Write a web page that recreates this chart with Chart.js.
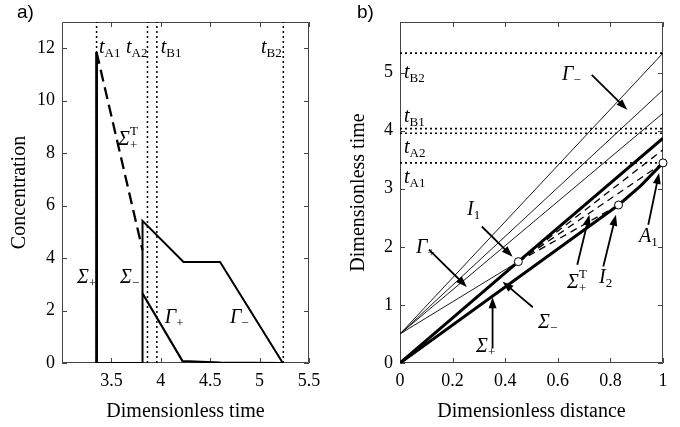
<!DOCTYPE html>
<html>
<head>
<meta charset="utf-8">
<script src="https://cdn.jsdelivr.net/npm/chart.js@4.4.1/dist/chart.umd.min.js"></script>
<style>
    html, body { margin: 0; padding: 0; background: #fff; }
    #wrap { position: relative; width: 680px; height: 427px; }
    canvas { position: absolute; top: 0; }
    #chartA { left: 0; }
    #chartB { left: 340px; }
    .tag { position: absolute; top: 1px; font: 19px "Liberation Sans", Arial, sans-serif; color: #000; }
</style>
</head>
<body>
<div id="wrap">
    <canvas id="chartA" width="340" height="427"></canvas>
    <canvas id="chartB" width="340" height="427"></canvas>
    <div class="tag" style="left:17px">a)</div>
    <div class="tag" style="left:357px">b)</div>
</div>
<script>
const serif = '"Liberation Serif", "Times New Roman", serif';

// a) concentration at the outlet vs. time
const aTimeTicks = [3.5, 4, 4.5, 5, 5.5];
const aConcTicks = [0, 2, 4, 6, 8, 10, 12];
const aSigmaPlus = [[3.35, 0], [3.35, 11.85]];
const aSigmaPlusT = [[3.35, 11.85], [3.815, 4.3]];
const aOutlet = [[3.35, 0], [3.815, 0], [3.815, 5.42], [4.23, 3.85], [4.6, 3.85], [5.235, 0]];
const aGammaPlus = [[3.815, 2.65], [4.22, 0.07], [4.6, 0.02], [5.235, 0]];
const markNames = ['A1', 'A2', 'B1', 'B2'];
const aMarkTimes = [3.35, 3.865, 3.96, 5.24];

// b) distance-time diagram
const bDistTicks = [0, 0.2, 0.4, 0.6, 0.8, 1];
const bTimeTicks = [0, 1, 2, 3, 4, 5];
const bMarkTimes = [3.445, 3.955, 4.035, 5.335];
const bSigmaPlus = [[0, 0], [0.831, 2.72], [0.915, 3.05], [1, 3.445]];
const bSigmaMinus = [[0, 0], [0.45, 1.745], [1, 3.87]];
const bFanStart = [0, 0.5];
const bFanEnds = [[1, 5.335], [1, 4.70], [1, 4.30], [0.45, 1.745]];
const bTransientEnds = [[1, 3.67], [1, 3.445], [0.831, 2.72]];   // dashed, starting at I1
const bNodes = [[0.45, 1.745], [0.831, 2.72], [1, 3.445]];          // I1, I2, A1

const aConcMax = 13;
const bTimeMax = 5.87;

// Beschriftungen und Pfeile (in Datenkoordinaten)
const notes = {
    chartA: {
        labels: [
            { at: [3.375, 11.82], main: 't', sub: 'A1' },
            { at: [3.648, 11.82], main: 't', sub: 'A2' },
            { at: [4.0, 11.82], main: 't', sub: 'B1' },
            { at: [5.014, 11.82], main: 't', sub: 'B2' },
            { at: [3.567, 8.31], main: 'Σ', sub: '+', sup: 'T' },
            { at: [3.152, 3.05], main: 'Σ', sub: '+' },
            { at: [3.587, 3.05], main: 'Σ', sub: '−' },
            { at: [4.04, 1.52], main: 'Γ', sub: '+' },
            { at: [4.70, 1.52], main: 'Γ', sub: '−' }
        ],
        arrows: []
    },
    chartB: {
        labels: [
            { at: [0.015, 4.91], main: 't', sub: 'B2' },
            { at: [0.015, 4.14], main: 't', sub: 'B1' },
            { at: [0.015, 3.62], main: 't', sub: 'A2' },
            { at: [0.015, 3.10], main: 't', sub: 'A1' },
            { at: [0.616, 4.87], main: 'Γ', sub: '−' },
            { at: [0.255, 2.55], main: 'I', sub: '1' },
            { at: [0.061, 1.89], main: 'Γ', sub: '+' },
            { at: [0.525, 0.60], main: 'Σ', sub: '−' },
            { at: [0.289, 0.19], main: 'Σ', sub: '+' },
            { at: [0.635, 1.29], main: 'Σ', sub: '+', sup: 'T' },
            { at: [0.757, 1.38], main: 'I', sub: '2' },
            { at: [0.909, 2.08], main: 'A', sub: '1' }
        ],
        arrows: [
            [0.729, 4.96, 0.864, 4.36],
            [0.311, 2.35, 0.428, 1.83],
            [0.110, 1.95, 0.254, 1.31],
            [0.505, 0.96, 0.390, 1.40],
            [0.352, 0.25, 0.352, 1.13],
            [0.674, 1.69, 0.720, 2.55],
            [0.773, 1.66, 0.821, 2.55],
            [0.944, 2.38, 0.985, 3.27]
        ]
    }
};

const pts = arr => arr.map(([x, y]) => ({ x, y }));

function line(points, width, dash) {
    return {
        data: pts(points),
        showLine: true,
        borderColor: '#000',
        borderWidth: width,
        borderDash: dash || [],
        pointRadius: 0,
        fill: false,
        tension: 0
    };
}

function drawSym(ctx, px, py, n) {
    ctx.textAlign = 'left';
    ctx.textBaseline = 'alphabetic';
    ctx.font = 'italic 20px ' + serif;
    ctx.fillText(n.main, px, py);
    const w = ctx.measureText(n.main).width;
    ctx.font = '13px ' + serif;
    if (n.sub) ctx.fillText(n.sub, px + w, py + 4);
    if (n.sup) ctx.fillText(n.sup, px + w, py - 10);
}

function drawArrow(ctx, x0, y0, x1, y1) {
    const ang = Math.atan2(y1 - y0, x1 - x0);
    const c = Math.cos(ang), s = Math.sin(ang);
    const head = 11, half = 4;
    ctx.lineWidth = 1.8;
    ctx.beginPath();
    ctx.moveTo(x0, y0);
    ctx.lineTo(x1 - head * 0.8 * c, y1 - head * 0.8 * s);
    ctx.stroke();
    ctx.beginPath();
    ctx.moveTo(x1, y1);
    ctx.lineTo(x1 - head * c + half * s, y1 - head * s - half * c);
    ctx.lineTo(x1 - head * c - half * s, y1 - head * s + half * c);
    ctx.closePath();
    ctx.fill();
}

// Rahmen mit Ticks nach innen auf allen vier Seiten
const frameTicks = {
    id: 'frameTicks',
    beforeDatasetsDraw(chart) {
        const { ctx, chartArea: a, scales: { x, y } } = chart;
        const len = 5;
        ctx.save();
        ctx.strokeStyle = '#444';
        ctx.lineWidth = 1;
        ctx.beginPath();
        ctx.rect(a.left + 0.5, a.top + 0.5, a.right - a.left - 1, a.bottom - a.top - 1);
        x.ticks.forEach(t => {
            const px = Math.round(x.getPixelForValue(t.value)) + 0.5;
            ctx.moveTo(px, a.bottom); ctx.lineTo(px, a.bottom - len);
            ctx.moveTo(px, a.top); ctx.lineTo(px, a.top + len);
        });
        y.ticks.forEach(t => {
            const py = Math.round(y.getPixelForValue(t.value)) + 0.5;
            ctx.moveTo(a.left, py); ctx.lineTo(a.left + len, py);
            ctx.moveTo(a.right, py); ctx.lineTo(a.right - len, py);
        });
        ctx.stroke();
        ctx.restore();
    }
};

const notesPlugin = {
    id: 'notesPlugin',
    afterDatasetsDraw(chart) {
        const n = notes[chart.canvas.id];
        const { ctx, scales: { x, y } } = chart;
        ctx.save();
        ctx.fillStyle = '#000';
        ctx.strokeStyle = '#000';
        n.arrows.forEach(([x0, y0, x1, y1]) => drawArrow(ctx,
            x.getPixelForValue(x0), y.getPixelForValue(y0),
            x.getPixelForValue(x1), y.getPixelForValue(y1)));
        n.labels.forEach(l => drawSym(ctx, x.getPixelForValue(l.at[0]), y.getPixelForValue(l.at[1]), l));
        ctx.restore();
    }
};

function axis(min, max, ticks, title, fit, titlePad) {
    return {
        type: 'linear',
        min: min,
        max: max,
        afterFit: fit,
        afterBuildTicks: scale => { scale.ticks = ticks.map(v => ({ value: v })); },
        grid: { display: false, drawTicks: false },
        border: { display: false },
        ticks: {
            color: '#000',
            font: { family: serif, size: 18 },
            padding: 7,
            maxRotation: 0,
            autoSkip: false,
            callback: v => String(v)
        },
        title: {
            display: true,
            text: title,
            color: '#000',
            font: { family: serif, size: 20 },
            padding: titlePad
        }
    };
}

// a) Konzentration
new Chart(document.getElementById('chartA'), {
    type: 'scatter',
    data: {
        datasets: [
            ...aMarkTimes.map(t => line([[t, 0], [t, aConcMax]], 1.5, [2, 3])),
            line(aSigmaPlus, 2.8),
            line(aSigmaPlusT, 2.3, [12, 6]),
            line(aOutlet, 2),
            line(aGammaPlus, 2.2)
        ]
    },
    options: {
        responsive: false,
        animation: false,
        layout: { padding: { top: 22, right: 31, left: 0, bottom: 0 } },
        plugins: { legend: { display: false }, tooltip: { enabled: false } },
        scales: {
            x: axis(3, 5.5, aTimeTicks, 'Dimensionless time', s => { s.height = 64; }, { top: 0, bottom: 3 }),
            y: axis(0, aConcMax, aConcTicks, 'Concentration', s => { s.width = 62; }, { top: 8, bottom: 0 })
        }
    },
    plugins: [frameTicks, notesPlugin]
});

// b) Weg-Zeit-Diagramm
new Chart(document.getElementById('chartB'), {
    type: 'scatter',
    data: {
        datasets: [
            {
                data: pts(bNodes),
                pointRadius: 4,
                pointBackgroundColor: '#fff',
                pointBorderColor: '#000',
                pointBorderWidth: 1,
                showLine: false,
                clip: false,
                order: -1
            },
            ...bMarkTimes.map(t => line([[0, t], [1, t]], 1.6, [2, 3])),
            ...bFanEnds.map(e => line([bFanStart, e], 0.9)),
            ...bTransientEnds.map(e => line([bNodes[0], e], 1.3, [7, 5])),
            line(bSigmaMinus, 3),
            line(bSigmaPlus, 3)
        ]
    },
    options: {
        responsive: false,
        animation: false,
        layout: { padding: { top: 22, right: 17, left: 0, bottom: 0 } },
        plugins: { legend: { display: false }, tooltip: { enabled: false } },
        scales: {
            x: axis(0, 1, bDistTicks, 'Dimensionless distance', s => { s.height = 64; }, { top: 0, bottom: 3 }),
            y: axis(0, bTimeMax, bTimeTicks, 'Dimensionless time', s => { s.width = 60; }, { top: 7, bottom: 0 })
        }
    },
    plugins: [frameTicks, notesPlugin]
});
</script>
</body>
</html>
